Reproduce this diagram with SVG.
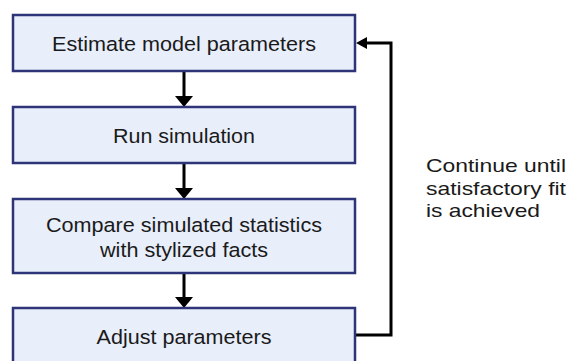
<svg xmlns="http://www.w3.org/2000/svg" width="568" height="361" viewBox="0 0 568 361">
  <style>
    .box { fill: #E8EEFA; stroke: #2E3478; stroke-width: 2.5; }
    .lbl { font-family: "Liberation Sans", Arial, sans-serif; font-size: 20.5px; fill: #1A1A1A; text-anchor: middle; }
    .note { font-family: "Liberation Sans", Arial, sans-serif; font-size: 19px; fill: #1A1A1A; }
    .wire { fill: none; stroke: #000; stroke-width: 3; }
    .head { fill: #000; }
  </style>
  <rect width="568" height="361" fill="#FFFFFF"/>

  <g id="connectors">
    <line class="wire" x1="184" y1="71" x2="184" y2="98"/>
    <polygon class="head" points="175,96 193,96 184,107"/>
    <line class="wire" x1="184" y1="163" x2="184" y2="190"/>
    <polygon class="head" points="175,188 193,188 184,199"/>
    <line class="wire" x1="184" y1="273" x2="184" y2="299"/>
    <polygon class="head" points="175,297 193,297 184,308"/>
    <polyline class="wire" points="355,335 391,335 391,43 364,43"/>
    <polygon class="head" points="367,37 367,49 356,43"/>
  </g>

  <g id="estimate">
    <rect class="box" x="13" y="15" width="342" height="56"/>
    <text class="lbl" x="184" y="50.5" textLength="264" lengthAdjust="spacingAndGlyphs">Estimate model parameters</text>
  </g>

  <g id="run">
    <rect class="box" x="13" y="107" width="342" height="56"/>
    <text class="lbl" x="184" y="142.5" textLength="142" lengthAdjust="spacingAndGlyphs">Run simulation</text>
  </g>

  <g id="compare">
    <rect class="box" x="13" y="199" width="342" height="74"/>
    <text class="lbl" x="184" y="231.5" textLength="276" lengthAdjust="spacingAndGlyphs">Compare simulated statistics</text>
    <text class="lbl" x="184" y="257" textLength="168" lengthAdjust="spacingAndGlyphs">with stylized facts</text>
  </g>

  <g id="adjust">
    <rect class="box" x="13" y="308" width="342" height="60"/>
    <text class="lbl" x="184" y="343.5" textLength="175" lengthAdjust="spacingAndGlyphs">Adjust parameters</text>
  </g>

  <g id="note">
    <text class="note" x="426" y="172" textLength="140" lengthAdjust="spacingAndGlyphs">Continue until</text>
    <text class="note" x="426" y="195" textLength="140" lengthAdjust="spacingAndGlyphs">satisfactory fit</text>
    <text class="note" x="426" y="217" textLength="114" lengthAdjust="spacingAndGlyphs">is achieved</text>
  </g>
</svg>
